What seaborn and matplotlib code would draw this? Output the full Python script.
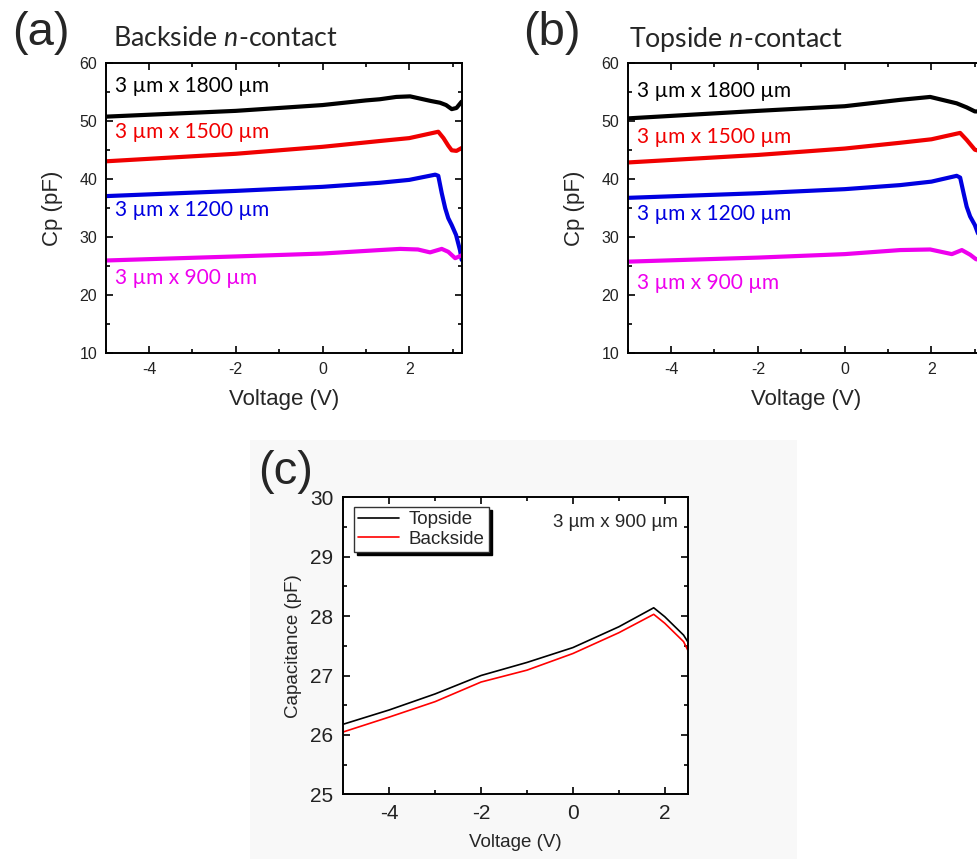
import matplotlib
matplotlib.use("Agg")
import matplotlib.pyplot as plt
import seaborn as sns
import pandas as pd
from matplotlib.patches import Rectangle
from matplotlib.ticker import MultipleLocator

# ---------------- data ----------------
# Panel (a): Backside n-contact
a_1800_v = [-5.0, -2.0, 0.0, 1.0, 1.32, 1.7, 2.02, 2.5, 2.71, 2.85, 2.98, 3.09, 3.21]
a_1800_c = [50.8, 51.8, 52.8, 53.6, 53.8, 54.2, 54.3, 53.5, 53.2, 52.8, 52.1, 52.3, 53.4]
a_1500_v = [-5.0, -2.0, 0.0, 1.32, 2.0, 2.67, 2.79, 2.9, 2.98, 3.09, 3.21]
a_1500_c = [43.1, 44.4, 45.6, 46.6, 47.1, 48.2, 47.1, 45.8, 45.0, 44.9, 45.4]
a_1200_v = [-5.0, -2.0, 0.0, 1.32, 2.0, 2.6, 2.67, 2.75, 2.83, 2.9, 2.98, 3.08, 3.17, 3.21]
a_1200_c = [37.1, 38.0, 38.7, 39.4, 39.9, 40.8, 40.6, 37.6, 35.0, 33.3, 32.1, 30.4, 27.8, 26.1]
a_900_v = [-5.0, -2.0, 0.0, 1.32, 1.79, 2.2, 2.48, 2.75, 2.9, 3.06, 3.21]
a_900_c = [26.0, 26.7, 27.2, 27.8, 28.0, 27.9, 27.4, 28.0, 27.5, 26.4, 26.9]

# Panel (b): Topside n-contact
b_1800_v = [-5.0, -2.0, 0.0, 1.28, 1.97, 2.58, 2.81, 3.0, 3.1]
b_1800_c = [50.5, 51.8, 52.6, 53.7, 54.2, 53.1, 52.4, 51.7, 51.7]
b_1500_v = [-5.0, -2.0, 0.0, 1.28, 2.0, 2.66, 2.81, 3.0, 3.1]
b_1500_c = [42.9, 44.2, 45.3, 46.3, 46.9, 48.0, 46.8, 45.1, 44.9]
b_1200_v = [-5.0, -2.0, 0.0, 1.28, 2.0, 2.58, 2.66, 2.74, 2.81, 2.89, 3.0, 3.07, 3.1]
b_1200_c = [36.8, 37.6, 38.3, 39.0, 39.6, 40.6, 40.3, 37.6, 35.3, 33.6, 32.1, 30.7, 30.0]
b_900_v = [-5.0, -2.0, 0.0, 1.28, 1.97, 2.47, 2.7, 2.89, 3.03, 3.1]
b_900_c = [25.8, 26.5, 27.1, 27.8, 27.9, 27.1, 27.8, 27.0, 26.2, 26.2]

# Panel (c): 3 um x 900 um comparison
c_v = [-5.0, -4.0, -3.0, -2.0, -1.0, 0.0, 1.0, 1.76, 2.0, 2.41, 2.5]
c_top = [26.18, 26.42, 26.69, 27.00, 27.22, 27.47, 27.82, 28.14, 27.99, 27.68, 27.57]
c_back = [26.05, 26.30, 26.56, 26.89, 27.09, 27.37, 27.72, 28.03, 27.88, 27.57, 27.43]

device_labels = ["3 \u00b5m x 1800 \u00b5m", "3 \u00b5m x 1500 \u00b5m",
                 "3 \u00b5m x 1200 \u00b5m", "3 \u00b5m x 900 \u00b5m"]
device_colors = ["#000000", "#f00000", "#0000e0", "#ee00ee"]
panel_titles = ["Backside $\\mathit{n}$-contact", "Topside $\\mathit{n}$-contact"]
legend_labels = ["Topside", "Backside"]

# ---------------- style ----------------
sns.set_theme(style="ticks")
plt.rcParams["font.family"] = ["Liberation Sans", "DejaVu Sans"]
plt.rcParams["mathtext.fontset"] = "custom"
plt.rcParams["mathtext.rm"] = "Lato"
plt.rcParams["mathtext.it"] = "Lato:italic"
plt.rcParams["axes.linewidth"] = 1.4
plt.rcParams["axes.unicode_minus"] = False
plt.rcParams["xtick.direction"] = "in"
plt.rcParams["ytick.direction"] = "in"

fig = plt.figure(figsize=(9.78, 8.59), dpi=100)
W, H = 978, 859

# light grey backdrop of panel (c)
fig.patches.append(Rectangle((250 / W, 0), (797 - 250) / W, (859 - 440) / H,
                             transform=fig.transFigure, facecolor="#f8f8f8",
                             edgecolor="none", zorder=-10))


def px_axes(l, t, r, b):
    return fig.add_axes([l / W, 1 - b / H, (r - l) / W, (b - t) / H])


def style_axes(ax, xmaj, xmin, ymaj, ymin, tsize):
    ax.xaxis.set_major_locator(MultipleLocator(xmaj))
    ax.xaxis.set_minor_locator(MultipleLocator(xmin))
    ax.yaxis.set_major_locator(MultipleLocator(ymaj))
    ax.yaxis.set_minor_locator(MultipleLocator(ymin))
    ax.tick_params(which="both", top=True, right=True, direction="in",
                   colors="black", labelsize=tsize, width=1.2)
    ax.tick_params(which="major", length=5, pad=6)
    ax.tick_params(which="minor", length=3)
    ax.tick_params(axis="both", labelcolor="#222222")
    for s in ax.spines.values():
        s.set_color("black")
        s.set_linewidth(1.4)
    ax.set_facecolor("white")


top_sets = [
    ([a_1800_v, a_1500_v, a_1200_v, a_900_v], [a_1800_c, a_1500_c, a_1200_c, a_900_c],
     (105.7, 63.3, 461.7, 353.3), 3.21, [56.0, 48.2, 34.7, 22.9]),
    ([b_1800_v, b_1500_v, b_1200_v, b_900_v], [b_1800_c, b_1500_c, b_1200_c, b_900_c],
     (627.7, 63.3, 984.0, 353.3), 3.21, [55.3, 47.3, 34.1, 22.2]),
]

panel_letters = ["(a)", "(b)"]
letter_pos = [(41, 33), (552, 33)]
title_pos = [(113, 39), (629, 39)]

for i, (vs, cs, box, xmax, label_y) in enumerate(top_sets):
    ax = px_axes(*box)
    for v, c, col in zip(vs, cs, device_colors):
        df = pd.DataFrame({"V": v, "C": c})
        sns.lineplot(data=df, x="V", y="C", ax=ax, color=col, linewidth=3.0,
                     estimator=None, sort=False)
    for lab, col, y in zip(device_labels, device_colors, label_y):
        ax.text(-4.79, y, lab, color=col, fontsize=15, family=["Lato", "DejaVu Sans"],
                va="center", ha="left")
    ax.set_xlim(-5, xmax)
    ax.set_ylim(10, 60)
    style_axes(ax, 2, 1, 10, 5, 11.5)
    ax.set_xlabel("Voltage (V)", fontsize=16, labelpad=9)
    ax.set_ylabel("Cp (pF)", fontsize=16, labelpad=12)
    fig.text(letter_pos[i][0] / W, 1 - letter_pos[i][1] / H, panel_letters[i],
             fontsize=34, ha="center", va="center")
    fig.text(title_pos[i][0] / W, 1 - title_pos[i][1] / H, panel_titles[i],
             fontsize=19.3, ha="left", va="center", family=["Lato", "DejaVu Sans"])

# Panel (c)
axc = px_axes(343.3, 497.3, 687.7, 794.3)
dfc = pd.DataFrame({"V": c_v * 2, "C": c_top + c_back,
                    "Contact": [legend_labels[0]] * len(c_v) + [legend_labels[1]] * len(c_v)})
sns.lineplot(data=dfc, x="V", y="C", hue="Contact", palette=["black", "red"], ax=axc,
             linewidth=1.2, estimator=None, sort=False)
axc.set_xlim(-5, 2.5)
axc.set_ylim(25, 30)
style_axes(axc, 2, 1, 1, 0.5, 15)
axc.tick_params(which="major", pad=7)
axc.set_xlabel("Voltage (V)", fontsize=13.5, labelpad=8)
axc.set_ylabel("Capacitance (pF)", fontsize=13.5, labelpad=6)
leg = axc.legend(loc="upper left", bbox_to_anchor=(0.031, 0.967), borderaxespad=0,
                 fontsize=13.5, fancybox=False, frameon=True, edgecolor="#333333",
                 shadow={"color": "black", "alpha": 1}, title=None,
                 handlelength=2.2, labelspacing=0.12, borderpad=0.22, handletextpad=0.5)
leg.get_frame().set_linewidth(1.0)
leg.get_frame().set_facecolor("white")
axc.text(-0.43, 29.58, "3 \u00b5m x 900 \u00b5m", fontsize=13.5, ha="left", va="center")
fig.text(286 / W, 1 - 472 / H, "(c)", fontsize=34, ha="center", va="center")

fig.savefig("out.png", dpi=100)
